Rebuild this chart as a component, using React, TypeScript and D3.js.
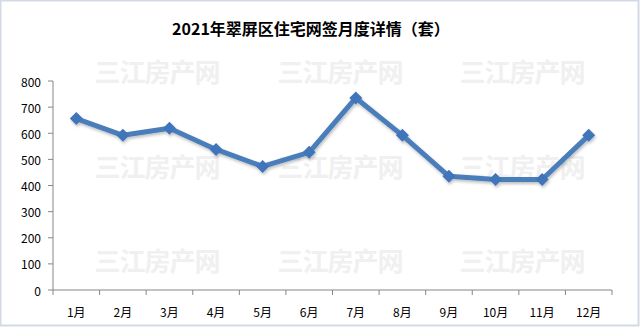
import React from "react";
import * as d3 from "d3";

const months = ["1月", "2月", "3月", "4月", "5月", "6月", "7月", "8月", "9月", "10月", "11月", "12月"];
const values = [656, 592, 619, 538, 473, 527, 735, 592, 435, 423, 423, 592];
const yTicks = [0, 100, 200, 300, 400, 500, 600, 700, 800];
const title = "2021年翠屏区住宅网签月度详情（套）";
const watermark = "三江房产网";
const wmCols = [157, 340, 522];
const wmRows = [70, 165, 259];

const W = 640, H = 327;
const left = 53, right = 612, top = 81, bottom = 290;

export default function App() {
  const x = d3.scaleBand<string>().domain(months).range([left, right]);
  const y = d3.scaleLinear().domain([0, 800]).range([bottom, top]);
  const cxOf = (i: number) => (x(months[i]) as number) + x.bandwidth() / 2;
  const line = d3.line<number>()
    .x((_, i) => cxOf(i))
    .y((d) => y(d));
  const font = "'Noto Sans CJK SC', 'Noto Sans', sans-serif";
  const ticksX = [...months.map((m) => x(m) as number), right];
  return (
    <svg width={W} height={H} style={{ position: "absolute", left: 0, top: 0 }}>
      <defs>
        <filter id="sh" x="-10%" y="-20%" width="120%" height="140%">
          <feDropShadow dx="1" dy="2" stdDeviation="1.5" floodColor="#000" floodOpacity="0.25" />
        </filter>
      </defs>
      <rect x={0.5} y={0.5} width={W - 2} height={H - 2} fill="#fff" stroke="#d3dae6" strokeWidth={2} />
      {wmRows.map((ry) =>
        wmCols.map((cx) => (
          <text key={`${ry}-${cx}`} x={cx} y={ry} textAnchor="middle" dominantBaseline="central"
            fontFamily={font} fontSize={26} fontWeight="bold" fill="#f0f0f0" letterSpacing={-1}>
            {watermark}
          </text>
        ))
      )}
      <text x={311} y={28} textAnchor="middle" dominantBaseline="central" fontFamily={font}
        fontSize={16} fontWeight="bold" fill="#000">{title}</text>
      <line x1={left} x2={left} y1={top} y2={bottom} stroke="#868686" />
      <line x1={left} x2={right} y1={bottom} y2={bottom} stroke="#868686" />
      {yTicks.map((t) => (
        <g key={t}>
          <line x1={left - 5} x2={left} y1={y(t)} y2={y(t)} stroke="#868686" />
          <text x={left - 12} y={y(t)} textAnchor="end" dominantBaseline="central" fontFamily={font}
            fontSize={12} fill="#000">{t}</text>
        </g>
      ))}
      {ticksX.map((tx, i) => (
        <line key={i} x1={tx} x2={tx} y1={bottom} y2={bottom + 5} stroke="#868686" />
      ))}
      {months.map((m, i) => (
        <text key={m} x={cxOf(i)} y={311} textAnchor="middle"
          dominantBaseline="central" fontFamily={font} fontSize={12} fill="#000">{m}</text>
      ))}
      <g filter="url(#sh)">
        <path d={line(values) || ""} fill="none" stroke="#4a7ebb" strokeWidth={5} strokeLinejoin="round" />
        {values.map((v, i) => {
          const cx = cxOf(i);
          const cy = y(v);
          return (
            <path key={i} d={`M${cx},${cy - 6.5}L${cx + 6.5},${cy}L${cx},${cy + 6.5}L${cx - 6.5},${cy}Z`}
              fill="#3f74ba" />
          );
        })}
      </g>
    </svg>
  );
}
